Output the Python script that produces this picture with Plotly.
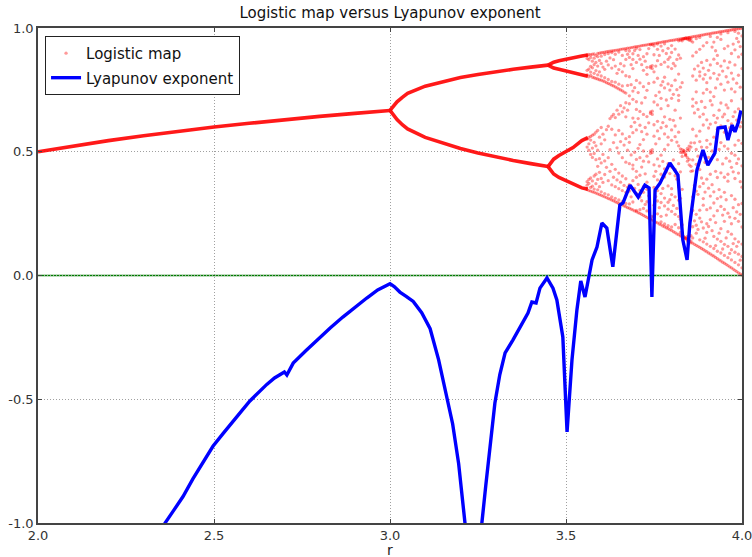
import plotly.graph_objects as go

# ---------------- data ----------------
# stable branches of the logistic map
p1_r = [2.0, 2.1, 2.2, 2.3, 2.4, 2.5, 2.6, 2.7, 2.8, 2.9, 2.95, 3.0]
p1_x = [0.500, 0.524, 0.545, 0.565, 0.583, 0.600, 0.615, 0.630, 0.643, 0.655, 0.661, 0.667]

p2_r = [3.0, 3.005, 3.01, 3.02, 3.035, 3.05, 3.1, 3.15, 3.2, 3.25, 3.3, 3.35, 3.4, 3.449]
p2_upper = [0.667, 0.676, 0.686, 0.702, 0.720, 0.736, 0.765, 0.784, 0.800, 0.812, 0.824, 0.833, 0.842, 0.850]
p2_lower = [0.667, 0.658, 0.648, 0.630, 0.609, 0.592, 0.558, 0.534, 0.513, 0.495, 0.479, 0.465, 0.452, 0.440]

p4_r = [3.449, 3.455, 3.465, 3.48, 3.50, 3.52, 3.545, 3.562]
p4_a = [0.850, 0.855, 0.862, 0.868, 0.875, 0.881, 0.887, 0.891]
p4_b = [0.850, 0.845, 0.838, 0.833, 0.827, 0.820, 0.811, 0.805]
p4_c = [0.440, 0.452, 0.470, 0.485, 0.501, 0.517, 0.545, 0.557]
p4_d = [0.440, 0.428, 0.410, 0.396, 0.383, 0.371, 0.354, 0.349]

# chaotic region: estimated dot positions per r column
chaos_r = [3.560, 3.565, 3.570, 3.575, 3.580, 3.585, 3.590, 3.595, 3.600, 3.610,
           3.620, 3.630, 3.640, 3.650, 3.660, 3.670, 3.680, 3.690, 3.700, 3.710,
           3.720, 3.730, 3.740, 3.745, 3.750, 3.760, 3.770, 3.780, 3.790, 3.800,
           3.810, 3.820, 3.825, 3.830, 3.835, 3.840, 3.845, 3.850, 3.855, 3.860,
           3.870, 3.880, 3.890, 3.900, 3.910, 3.920, 3.930, 3.940, 3.950, 3.960,
           3.970, 3.980, 3.990, 4.000]
chaos_x = [
    [0.347, 0.365, 0.379, 0.519, 0.551, 0.811, 0.829, 0.877, 0.888, 0.891],
    [0.343, 0.372, 0.388, 0.506, 0.532, 0.558, 0.803, 0.834, 0.872, 0.893],
    [0.341, 0.356, 0.394, 0.489, 0.547, 0.562, 0.808, 0.822, 0.845, 0.881, 0.892],
    [0.338, 0.361, 0.382, 0.477, 0.515, 0.567, 0.801, 0.839, 0.866, 0.894],
    [0.336, 0.349, 0.402, 0.493, 0.538, 0.571, 0.799, 0.817, 0.852, 0.878, 0.895],
    [0.333, 0.371, 0.409, 0.468, 0.524, 0.579, 0.796, 0.828, 0.861, 0.889],
    [0.330, 0.346, 0.388, 0.441, 0.506, 0.586, 0.794, 0.811, 0.846, 0.884, 0.897],
    [0.327, 0.359, 0.417, 0.472, 0.559, 0.791, 0.823, 0.869, 0.898],
    [0.324, 0.338, 0.392, 0.455, 0.532, 0.598, 0.789, 0.806, 0.857, 0.886, 0.900],
    [0.318, 0.331, 0.408, 0.463, 0.548, 0.783, 0.799, 0.833, 0.893, 0.902],
    [0.311, 0.326, 0.383, 0.476, 0.603, 0.776, 0.792, 0.851, 0.897, 0.905],
    [0.305, 0.318, 0.366, 0.449, 0.591, 0.643, 0.769, 0.784, 0.838, 0.901, 0.907],
    [0.298, 0.312, 0.359, 0.429, 0.568, 0.638, 0.762, 0.781, 0.846, 0.894, 0.910],
    [0.291, 0.305, 0.351, 0.414, 0.495, 0.586, 0.652, 0.754, 0.773, 0.832, 0.903, 0.912],
    [0.285, 0.298, 0.343, 0.402, 0.476, 0.572, 0.661, 0.746, 0.766, 0.823, 0.889, 0.915],
    [0.278, 0.291, 0.336, 0.391, 0.458, 0.553, 0.641, 0.698, 0.737, 0.807, 0.873, 0.909, 0.917],
    [0.272, 0.289, 0.341, 0.367, 0.452, 0.538, 0.561, 0.694, 0.726, 0.803, 0.881, 0.907, 0.919],
    [0.265, 0.297, 0.383, 0.431, 0.446, 0.577, 0.636, 0.712, 0.745, 0.836, 0.873, 0.896, 0.922],
    [0.258, 0.263, 0.332, 0.397, 0.421, 0.469, 0.588, 0.671, 0.702, 0.788, 0.861, 0.918, 0.925],
    [0.251, 0.266, 0.317, 0.344, 0.405, 0.476, 0.529, 0.607, 0.663, 0.778, 0.874, 0.913, 0.927],
    [0.243, 0.271, 0.336, 0.359, 0.462, 0.503, 0.549, 0.651, 0.763, 0.829, 0.884, 0.930],
    [0.235, 0.261, 0.298, 0.348, 0.377, 0.482, 0.571, 0.642, 0.748, 0.813, 0.841, 0.896, 0.932],
    [0.227, 0.230, 0.494, 0.503, 0.655, 0.661, 0.839, 0.845, 0.932, 0.935],
    [0.224, 0.239, 0.497, 0.508, 0.651, 0.664, 0.836, 0.848, 0.933, 0.936],
    [0.221, 0.237, 0.284, 0.356, 0.401, 0.447, 0.563, 0.609, 0.701, 0.781, 0.823, 0.892, 0.928, 0.937],
    [0.213, 0.249, 0.301, 0.343, 0.386, 0.471, 0.584, 0.623, 0.689, 0.797, 0.868, 0.914, 0.935, 0.940],
    [0.205, 0.217, 0.239, 0.295, 0.331, 0.409, 0.486, 0.597, 0.674, 0.716, 0.769, 0.853, 0.927, 0.942],
    [0.197, 0.208, 0.281, 0.313, 0.398, 0.431, 0.509, 0.572, 0.641, 0.758, 0.801, 0.862, 0.936, 0.945],
    [0.190, 0.201, 0.268, 0.296, 0.362, 0.452, 0.528, 0.559, 0.686, 0.774, 0.843, 0.873, 0.918, 0.947],
    [0.182, 0.196, 0.259, 0.327, 0.351, 0.438, 0.546, 0.588, 0.716, 0.767, 0.836, 0.901, 0.929, 0.950],
    [0.173, 0.206, 0.247, 0.318, 0.403, 0.429, 0.561, 0.604, 0.668, 0.789, 0.847, 0.915, 0.952],
    [0.165, 0.193, 0.238, 0.304, 0.358, 0.452, 0.524, 0.579, 0.707, 0.728, 0.814, 0.891, 0.948, 0.955],
    [0.160, 0.174, 0.227, 0.312, 0.419, 0.498, 0.512, 0.636, 0.761, 0.878, 0.951, 0.956],
    [0.157, 0.160, 0.166, 0.205, 0.348, 0.481, 0.496, 0.508, 0.779, 0.948, 0.955, 0.957],
    [0.152, 0.155, 0.157, 0.498, 0.502, 0.505, 0.956, 0.957, 0.958],
    [0.148, 0.150, 0.152, 0.484, 0.487, 0.491, 0.957, 0.959, 0.960],
    [0.139, 0.146, 0.158, 0.462, 0.476, 0.505, 0.514, 0.955, 0.958, 0.961],
    [0.134, 0.142, 0.157, 0.447, 0.469, 0.508, 0.523, 0.951, 0.955, 0.961, 0.962],
    [0.132, 0.139, 0.161, 0.421, 0.441, 0.519, 0.536, 0.948, 0.957, 0.963],
    [0.131, 0.152, 0.197, 0.263, 0.318, 0.423, 0.467, 0.591, 0.684, 0.713, 0.806, 0.887, 0.943, 0.965],
    [0.122, 0.171, 0.203, 0.247, 0.341, 0.449, 0.509, 0.564, 0.698, 0.742, 0.789, 0.902, 0.957, 0.967],
    [0.114, 0.144, 0.232, 0.264, 0.359, 0.428, 0.541, 0.583, 0.641, 0.806, 0.823, 0.914, 0.962, 0.970],
    [0.105, 0.136, 0.192, 0.284, 0.311, 0.372, 0.496, 0.608, 0.652, 0.737, 0.794, 0.838, 0.928, 0.972],
    [0.096, 0.127, 0.174, 0.209, 0.266, 0.389, 0.518, 0.546, 0.629, 0.752, 0.779, 0.869, 0.941, 0.975],
    [0.087, 0.118, 0.226, 0.273, 0.321, 0.409, 0.531, 0.612, 0.706, 0.741, 0.798, 0.851, 0.966, 0.977],
    [0.078, 0.109, 0.158, 0.241, 0.293, 0.338, 0.486, 0.559, 0.647, 0.723, 0.817, 0.874, 0.943, 0.980],
    [0.068, 0.098, 0.147, 0.262, 0.311, 0.396, 0.468, 0.591, 0.636, 0.794, 0.857, 0.889, 0.962, 0.982],
    [0.059, 0.091, 0.138, 0.189, 0.279, 0.318, 0.415, 0.537, 0.604, 0.697, 0.773, 0.846, 0.954, 0.976, 0.985],
    [0.050, 0.081, 0.126, 0.219, 0.267, 0.336, 0.397, 0.523, 0.579, 0.652, 0.749, 0.867, 0.917, 0.987],
    [0.040, 0.072, 0.118, 0.177, 0.252, 0.381, 0.409, 0.512, 0.626, 0.677, 0.781, 0.839, 0.927, 0.981, 0.990],
    [0.031, 0.063, 0.104, 0.167, 0.209, 0.323, 0.437, 0.494, 0.613, 0.706, 0.754, 0.818, 0.897, 0.992],
    [0.021, 0.053, 0.094, 0.148, 0.231, 0.308, 0.392, 0.486, 0.527, 0.661, 0.742, 0.851, 0.912, 0.986, 0.995],
    [0.011, 0.043, 0.086, 0.136, 0.219, 0.286, 0.414, 0.471, 0.546, 0.673, 0.809, 0.883, 0.944, 0.979, 0.997],
    [0.002, 0.031, 0.077, 0.127, 0.196, 0.291, 0.357, 0.443, 0.534, 0.619, 0.714, 0.836, 0.894, 0.968, 0.999],
]

# sparser in-between columns of the chaotic cloud
chaos_r2 = [3.605, 3.615, 3.625, 3.635, 3.645, 3.655, 3.665, 3.675, 3.685, 3.695,
            3.705, 3.715, 3.725, 3.735, 3.755, 3.765, 3.775, 3.785, 3.795, 3.805,
            3.815, 3.865, 3.875, 3.885, 3.895, 3.905, 3.915, 3.925, 3.935, 3.945,
            3.955, 3.965, 3.975, 3.985, 3.995]
chaos_x2 = [
    [0.321, 0.376, 0.489, 0.571, 0.786, 0.842, 0.901],
    [0.315, 0.437, 0.589, 0.779, 0.866, 0.904],
    [0.309, 0.421, 0.508, 0.634, 0.773, 0.879, 0.906],
    [0.302, 0.397, 0.537, 0.651, 0.766, 0.872, 0.908],
    [0.295, 0.386, 0.516, 0.668, 0.758, 0.817, 0.911],
    [0.288, 0.377, 0.541, 0.686, 0.750, 0.856, 0.914],
    [0.281, 0.364, 0.527, 0.677, 0.741, 0.847, 0.916],
    [0.274, 0.357, 0.506, 0.668, 0.768, 0.894, 0.919],
    [0.268, 0.318, 0.487, 0.602, 0.771, 0.852, 0.921],
    [0.261, 0.352, 0.498, 0.619, 0.759, 0.909, 0.924],
    [0.254, 0.368, 0.514, 0.634, 0.739, 0.889, 0.926],
    [0.247, 0.302, 0.438, 0.581, 0.697, 0.852, 0.929],
    [0.239, 0.287, 0.411, 0.598, 0.719, 0.866, 0.931],
    [0.231, 0.322, 0.459, 0.617, 0.776, 0.917, 0.934],
    [0.216, 0.319, 0.421, 0.532, 0.727, 0.846, 0.938],
    [0.208, 0.274, 0.442, 0.553, 0.741, 0.889, 0.941],
    [0.200, 0.352, 0.461, 0.618, 0.783, 0.908, 0.944],
    [0.193, 0.244, 0.419, 0.603, 0.709, 0.897, 0.946],
    [0.185, 0.306, 0.412, 0.631, 0.749, 0.882, 0.949],
    [0.177, 0.283, 0.467, 0.627, 0.732, 0.857, 0.951],
    [0.168, 0.271, 0.389, 0.539, 0.751, 0.873, 0.954],
    [0.126, 0.221, 0.364, 0.536, 0.657, 0.834, 0.966],
    [0.118, 0.186, 0.328, 0.482, 0.671, 0.847, 0.968],
    [0.109, 0.217, 0.394, 0.519, 0.703, 0.861, 0.971],
    [0.100, 0.151, 0.337, 0.457, 0.679, 0.812, 0.974],
    [0.091, 0.198, 0.353, 0.477, 0.596, 0.829, 0.976],
    [0.082, 0.181, 0.367, 0.503, 0.689, 0.923, 0.979],
    [0.073, 0.121, 0.214, 0.421, 0.618, 0.758, 0.908, 0.981],
    [0.063, 0.171, 0.347, 0.509, 0.668, 0.811, 0.984],
    [0.054, 0.107, 0.244, 0.451, 0.641, 0.826, 0.986],
    [0.045, 0.152, 0.306, 0.474, 0.689, 0.803, 0.989],
    [0.035, 0.089, 0.236, 0.462, 0.597, 0.862, 0.991],
    [0.026, 0.129, 0.274, 0.419, 0.642, 0.794, 0.935, 0.994],
    [0.016, 0.118, 0.257, 0.453, 0.628, 0.777, 0.958, 0.996],
    [0.006, 0.062, 0.247, 0.379, 0.601, 0.761, 0.925, 0.998],
]

# Lyapunov exponent (values below -1 are off-chart estimates)
lyap_r = [2.300, 2.361, 2.385, 2.412, 2.440, 2.470, 2.497, 2.525, 2.554, 2.578,
          2.602, 2.626, 2.650, 2.672, 2.693, 2.700, 2.707, 2.725, 2.760, 2.792,
          2.830, 2.866, 2.900, 2.934, 2.965, 2.990, 3.000, 3.012, 3.028, 3.047,
          3.066, 3.090, 3.114, 3.138, 3.162, 3.178, 3.195, 3.213, 3.236, 3.261,
          3.272, 3.284, 3.298, 3.312, 3.327, 3.349, 3.378, 3.392, 3.403, 3.415,
          3.426, 3.446, 3.463, 3.474, 3.491, 3.503, 3.517, 3.531, 3.542, 3.554,
          3.574, 3.588, 3.602, 3.616, 3.633, 3.653, 3.662, 3.682, 3.705, 3.724,
          3.736, 3.744, 3.753, 3.767, 3.795, 3.818, 3.832, 3.844, 3.852, 3.872,
          3.889, 3.903, 3.923, 3.932, 3.952, 3.960, 3.972, 3.980, 3.989, 3.997]
lyap_v = [-1.200, -1.000, -0.950, -0.893, -0.822, -0.755, -0.690, -0.640, -0.592, -0.548,
          -0.507, -0.472, -0.440, -0.414, -0.394, -0.390, -0.402, -0.354, -0.305, -0.262,
          -0.212, -0.168, -0.128, -0.091, -0.058, -0.038, -0.033, -0.045, -0.067, -0.085,
          -0.105, -0.150, -0.215, -0.340, -0.490, -0.600, -0.760, -1.000, -1.600, -1.000,
          -0.850, -0.693, -0.515, -0.400, -0.313, -0.261, -0.188, -0.152, -0.107, -0.111,
          -0.051, -0.010, -0.051, -0.099, -0.248, -0.632, -0.341, -0.139, -0.022, -0.087,
          0.063, 0.115, 0.212, 0.192, 0.035, 0.285, 0.293, 0.365, 0.317, 0.365,
          0.354, -0.087, 0.345, 0.373, 0.455, 0.406, 0.143, 0.063, 0.212, 0.426,
          0.507, 0.446, 0.495, 0.596, 0.600, 0.547, 0.608, 0.580, 0.616, 0.667]

x_ticks = [2.0, 2.5, 3.0, 3.5, 4.0]
x_tick_labels = ["2.0", "2.5", "3.0", "3.5", "4.0"]
y_ticks = [-1.0, -0.5, 0.0, 0.5, 1.0]
y_tick_labels = ["-1.0", "-0.5", "0.0", "0.5", "1.0"]

# ---------------- build traces ----------------
def join_branches(pairs):
    xs, ys = [], []
    for rr, vv in pairs:
        xs += list(rr) + [None]
        ys += list(vv) + [None]
    return xs, ys

branch_pairs = [(p1_r, p1_x), (p2_r, p2_upper), (p2_r, p2_lower),
                (p4_r, p4_a), (p4_r, p4_b), (p4_r, p4_c), (p4_r, p4_d)]
br_x, br_y = join_branches(branch_pairs)

cx, cy = [], []
for rv, col in list(zip(chaos_r, chaos_x)) + list(zip(chaos_r2, chaos_x2)):
    cx += [rv] * len(col)
    cy += col

FONT = "DejaVu Sans, Verdana, sans-serif"
fig = go.Figure()

fig.add_trace(go.Scatter(
    x=cx, y=cy, mode="markers", name="Logistic map",
    marker=dict(color="rgba(255,0,0,0.40)", size=3.3, line=dict(width=0)),
    legendgroup="lm"))
fig.add_trace(go.Scatter(
    x=br_x, y=br_y, mode="lines", showlegend=False, legendgroup="lm",
    line=dict(color="rgba(255,0,0,0.9)", width=3.6),
    connectgaps=False, hoverinfo="skip"))
fig.add_trace(go.Scatter(
    x=lyap_r, y=lyap_v, mode="lines", name="Lyapunov exponent",
    line=dict(color="#0000ff", width=3.4)))

fig.add_shape(type="line", xref="paper", x0=0, x1=1, yref="y", y0=0, y1=0,
              line=dict(color="#008000", width=1.3), layer="between")

# x-axis label placed just under the tick labels
fig.add_annotation(text="r", xref="paper", yref="paper", x=0.5, y=-0.055,
                   xanchor="center", yanchor="middle", showarrow=False,
                   font=dict(size=14, family=FONT, color="#222"))

fig.update_layout(
    width=752, height=557,
    margin=dict(l=38, r=10, t=28, b=34),
    paper_bgcolor="white", plot_bgcolor="white",
    font=dict(family=FONT, color="#222", size=13),
    title=dict(text="Logistic map versus Lyapunov exponent",
               x=0.5, xref="paper", xanchor="center",
               y=1 - 13 / 557, yref="container", yanchor="middle",
               font=dict(size=15, family=FONT, color="#111")),
    legend=dict(x=0.01, y=0.984, xanchor="left", yanchor="top",
                bgcolor="white", bordercolor="#222", borderwidth=1,
                font=dict(size=15, family=FONT, color="#111"),
                tracegroupgap=2),
    showlegend=True,
)
fig.update_xaxes(
    range=[2.0, 4.0], tickvals=x_ticks, ticktext=x_tick_labels,
    showgrid=True, gridcolor="#a0a0a0", griddash="1px,2px", gridwidth=1,
    zeroline=False, showline=True, linecolor="#444", linewidth=1.5,
    mirror="ticks", ticks="inside", ticklen=4, tickcolor="#444",
    tickfont=dict(size=13, color="#333"), automargin=False,
    ticklabeloverflow="allow")
fig.update_yaxes(
    range=[-1.0, 1.0], tickvals=y_ticks, ticktext=y_tick_labels,
    showgrid=True, gridcolor="#a0a0a0", griddash="1px,2px", gridwidth=1,
    zeroline=False, showline=True, linecolor="#444", linewidth=1.5,
    mirror="ticks", ticks="inside", ticklen=4, tickcolor="#444",
    tickfont=dict(size=13, color="#333"), automargin=False,
    ticklabeloverflow="allow")

fig.write_html("out.html")
